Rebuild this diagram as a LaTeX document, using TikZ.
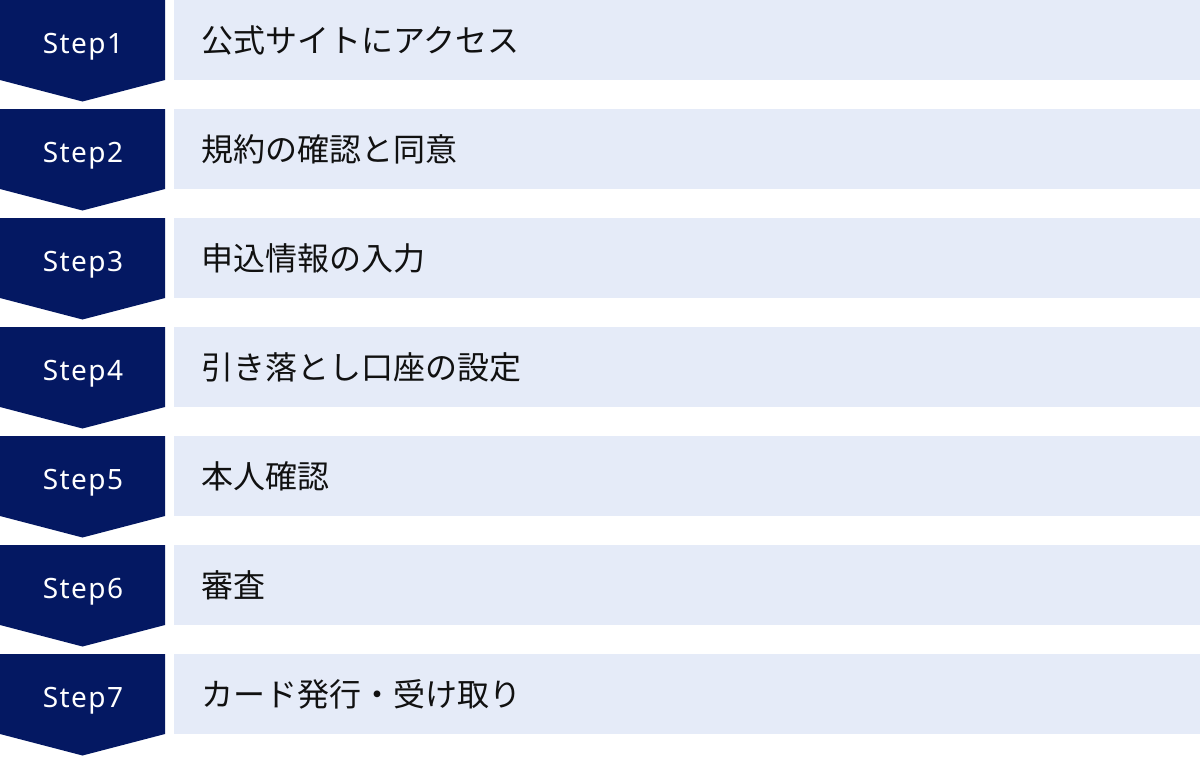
\documentclass[tikz,border=0pt]{standalone}
\usepackage{fontspec}
\newfontfamily\jpfont{Noto Sans CJK JP}
\newfontfamily\stepfont[LetterSpace=5]{Noto Sans}
\definecolor{navy}{HTML}{041862}
\definecolor{lightbox}{HTML}{E5EBF8}
\definecolor{txt}{HTML}{111111}
\tikzset{
  stepshape/.style={fill=navy, draw=none},
  steplabel/.style={text=white, font=\stepfont\fontsize{28pt}{28pt}\selectfont, inner sep=0pt, anchor=base},
  rowbox/.style={fill=lightbox, draw=none, anchor=north west, minimum width=1026pt, minimum height=80pt, inner sep=0pt},
  rowtext/.style={text=txt, font=\jpfont\fontsize{32pt}{32pt}\selectfont, inner sep=0pt, anchor=west},
}
\begin{document}
\begin{tikzpicture}[x=1pt,y=-1pt]
\useasboundingbox (0,0) rectangle (1200,756);
\foreach \i/\lab in {0/{公式サイトにアクセス},1/{規約の確認と同意},2/{申込情報の入力},3/{引き落とし口座の設定},4/{本人確認},5/{審査},6/{カード発行・受け取り}}{
  \pgfmathsetmacro{\t}{109*\i}
  \pgfmathtruncatemacro{\n}{\i+1}
  \path[stepshape] (0,\t) -- (165,\t) -- (165,\t+80) -- (82.5,\t+101.5) -- (0,\t+80) -- cycle;
  \node[steplabel] (s\n) at (83,\t+53.5) {Step\n};
  \node[rowbox] (b\n) at (174,\t) {};
  \node[rowtext] (t\n) at (201,\t+40) {\lab};
}
\end{tikzpicture}
\end{document}
